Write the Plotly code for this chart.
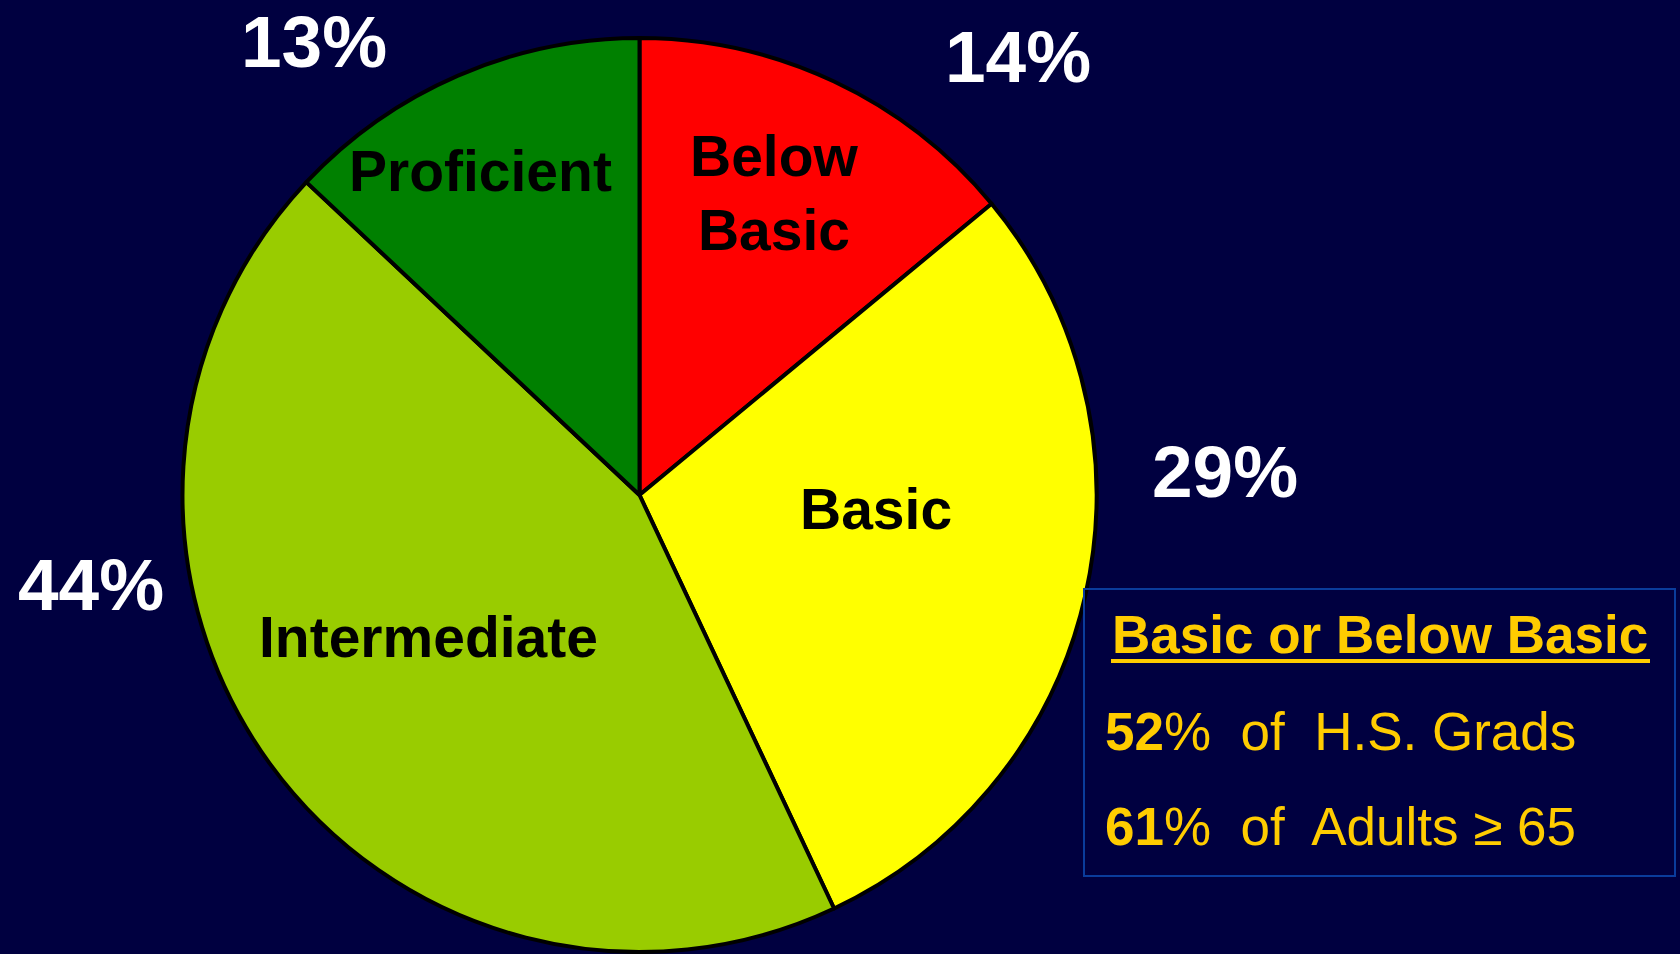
import plotly.graph_objects as go

W, H = 1680, 954
BG = "#000040"
GOLD = "#FFCC00"
BOX_LINE = "#0A3C9C"
FONT = "Liberation Sans, Arial, sans-serif"

# data
levels = ["Below Basic", "Basic", "Intermediate", "Proficient"]
level_labels = ["Below<br>Basic", "Basic", "Intermediate", "Proficient"]
shares = [14, 29, 44, 13]
colors = ["#FF0000", "#FFFF00", "#99CC00", "#008000"]

box_title = "Basic or Below Basic"
box_pcts = [52, 61]
box_groups = ["H.S. Grads", "Adults \u2265 65"]

# label placement (pixels in the 1680x954 page)
inside_pos = [(774, 193), (876, 509), (429, 637), (480, 171)]
outside_pos = [(1018, 56), (1225, 472), (91, 584), (314, 41)]


def px(x, y):
    return x / W, 1 - y / H


fig = go.Figure(go.Pie(
    labels=levels, values=shares, sort=False, direction="clockwise", rotation=0,
    marker=dict(colors=colors, line=dict(color="black", width=4)),
    textinfo="none", hoverinfo="label+percent", showlegend=False,
    domain=dict(x=[182 / W, 1097 / W], y=[1 - 952 / H, 1 - 38 / H]),
))

ann = []
for lab, (x, y) in zip(level_labels, inside_pos):
    xx, yy = px(x, y)
    ann.append(dict(x=xx, y=yy, text=f"<b>{lab}</b>",
                    font=dict(size=57, color="black", family=FONT)))
for v, (x, y) in zip(shares, outside_pos):
    xx, yy = px(x, y)
    ann.append(dict(x=xx, y=yy, text=f"<b>{v}%</b>",
                    font=dict(size=73, color="white", family=FONT)))

# callout box
xx, yy = px(1380, 634)
ann.append(dict(x=xx, y=yy, text=f"<b>{box_title}</b>",
                font=dict(size=53, color=GOLD, family=FONT)))
for i, (p, g) in enumerate(zip(box_pcts, box_groups)):
    xx, yy = px(1103, 731 + i * 95)
    ann.append(dict(x=xx, y=yy, xanchor="left", text=f"<b>{p}</b>%  of  {g}",
                    font=dict(size=53, color=GOLD, family=FONT)))
for a in ann:
    a.setdefault("xanchor", "center")
    a.update(xref="paper", yref="paper", yanchor="middle", showarrow=False)

x0, y1 = px(1084, 589)
x1, y0 = px(1675, 876)
ux0, uy = px(1111, 661)
ux1, _ = px(1650, 661)
shapes = [
    dict(type="rect", xref="paper", yref="paper", x0=x0, x1=x1, y0=y0, y1=y1,
         line=dict(color=BOX_LINE, width=2)),
    dict(type="line", xref="paper", yref="paper", x0=ux0, x1=ux1, y0=uy, y1=uy,
         line=dict(color=GOLD, width=4)),
]

fig.update_layout(
    paper_bgcolor=BG, plot_bgcolor=BG,
    margin=dict(l=0, r=0, t=0, b=0),
    annotations=ann, shapes=shapes,
)
fig.write_html(
    "out.html", default_width="100vw", default_height="100vh",
    config=dict(displayModeBar=False),
    post_script="document.body.style.margin='0';"
                "document.body.style.background='#000040';"
                "Plotly.Plots.resize(document.getElementById('{plot_id}'));",
)
